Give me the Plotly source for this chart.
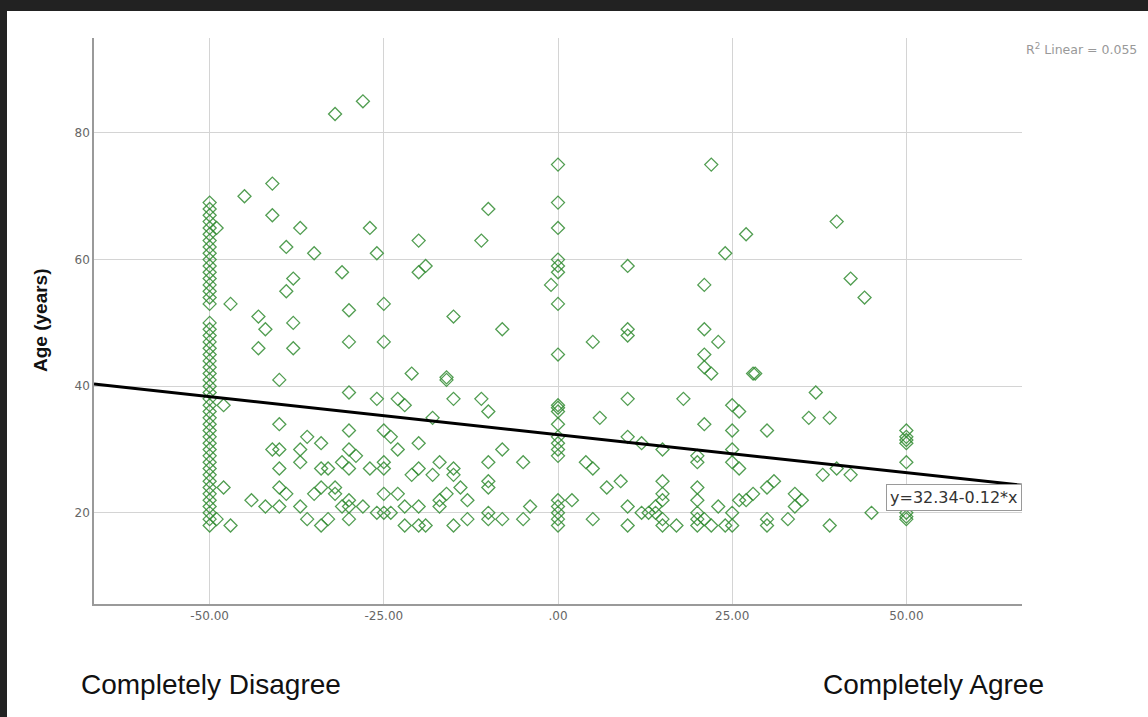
import plotly.graph_objects as go

# ---- data ----
col_m50_ages = [18, 19, 20, 21, 22, 23, 24, 25, 26, 27, 28, 29, 30, 31, 32, 33, 34, 35,
                36, 37, 38, 39, 40, 41, 42, 43, 44, 45, 46, 47, 48, 49, 50, 53, 54, 55,
                56, 57, 58, 59, 60, 61, 62, 63, 64, 65, 66, 67, 68, 69]

neg_pts = [(-49, 65), (-48, 37), (-48, 24), (-49, 19), (-47, 18),
           (-32, 83), (-28, 85), (-41, 72), (-45, 70), (-41, 67), (-37, 65), (-27, 65),
           (-39, 62), (-35, 61), (-26, 61), (-31, 58), (-20, 63), (-20, 58), (-19, 59),
           (-38, 57), (-39, 55), (-47, 53), (-25, 53), (-43, 51), (-42, 49), (-38, 50),
           (-30, 52), (-43, 46), (-38, 46), (-30, 47), (-25, 47), (-21, 42), (-40, 41),
           (-30, 39), (-26, 38), (-23, 38), (-22, 37), (-40, 34), (-30, 33), (-25, 33),
           (-36, 32), (-34, 31), (-24, 32), (-20, 31), (-41, 30), (-40, 30), (-37, 30),
           (-30, 30), (-29, 29), (-23, 30), (-40, 27), (-37, 28), (-34, 27), (-33, 27),
           (-31, 28), (-30, 27), (-27, 27), (-25, 28), (-25, 27), (-21, 26), (-20, 27),
           (-40, 24), (-39, 23), (-35, 23), (-34, 24), (-32, 24), (-32, 23), (-25, 23),
           (-23, 23), (-44, 22), (-42, 21), (-40, 21), (-37, 21), (-31, 21), (-30, 22),
           (-30, 21), (-28, 21), (-26, 20), (-25, 20), (-24, 20), (-22, 21), (-20, 21),
           (-36, 19), (-34, 18), (-33, 19), (-30, 19), (-22, 18), (-20, 18)]

mid_pts = [(-10, 68), (-11, 63), (-15, 51), (-8, 49), (5, 47), (-16, 41), (-16, 41.4),
           (-15, 38), (-11, 38), (-10, 36), (-18, 35), (6, 35), (-8, 30), (-5, 28),
           (4, 28), (5, 27), (-17, 28), (-15, 27), (-15, 26), (-18, 26), (-10, 28),
           (-10, 25), (-10, 24), (-14, 24), (-13, 22), (-17, 22), (-17, 21), (-16, 23),
           (7, 24), (2, 22), (-4, 21), (-10, 20), (-10, 19), (-15, 18), (-13, 19),
           (-8, 19), (-5, 19), (5, 19), (-19, 18),
           (0, 75), (0, 69), (0, 65), (0, 60), (0, 59), (0, 58), (-1, 56), (0, 53),
           (0, 45), (0, 37), (0, 36.6), (0, 36), (0, 34), (0, 32), (0, 31), (0, 30),
           (0, 29), (0, 22), (0, 21), (0, 20), (0, 19), (0, 18)]

pos_pts = [(22, 75), (27, 64), (24, 61), (10, 59), (21, 56), (10, 49), (10, 48), (21, 49),
           (23, 47), (21, 45), (21, 43), (22, 42), (28, 42), (28.3, 42), (10, 38), (18, 38),
           (25, 37), (26, 36), (37, 39), (36, 35), (21, 34), (25, 33), (30, 33), (10, 32),
           (12, 31), (15, 30), (20, 29), (20, 28), (25, 30), (25, 28), (26, 27), (9, 25),
           (15, 25), (15, 23), (15, 22), (20, 24), (20, 22), (20, 20), (10, 21), (12, 20),
           (13, 20), (14, 21), (14, 20), (15, 19), (15, 18), (10, 18), (17, 18), (20, 19),
           (21, 19), (22, 18), (20, 18), (23, 21), (25, 20), (25, 18), (24, 18), (26, 22),
           (27, 22), (28, 23), (30, 24), (31, 25), (30, 19), (30, 18), (33, 19), (34, 23),
           (35, 22), (34, 21),
           (40, 66), (42, 57), (44, 54), (39, 35), (50, 33), (50, 32), (50, 31.5), (50, 31),
           (50, 28), (38, 26), (40, 27), (42, 26), (45, 20), (50, 20), (50, 19.4), (50, 19),
           (39, 18)]

x_vals = [-50] * len(col_m50_ages) + [p[0] for p in neg_pts + mid_pts + pos_pts]
y_vals = list(col_m50_ages) + [p[1] for p in neg_pts + mid_pts + pos_pts]

intercept = 32.34
slope = -0.12
x_range = [-66.6, 66.6]
y_range = [5.6, 95]
x_tick_vals = [-50, -25, 0, 25, 50]
x_tick_text = ["-50.00", "-25.00", ".00", "25.00", "50.00"]
y_tick_vals = [20, 40, 60, 80]

fit_x = x_range
fit_y = [intercept + slope * v for v in fit_x]

fig = go.Figure()
fig.add_trace(go.Scatter(
    x=x_vals, y=y_vals, mode="markers",
    marker=dict(symbol="diamond-open", size=10, color="rgba(50,140,50,0.85)",
                line=dict(width=1.3, color="rgba(50,140,50,0.85)")),
    showlegend=False, hoverinfo="x+y"))
fig.add_trace(go.Scatter(
    x=fit_x, y=fit_y, mode="lines", line=dict(color="black", width=3),
    showlegend=False, hoverinfo="skip"))

tickfont = dict(family="DejaVu Sans", size=12, color="#666666")
fig.update_xaxes(range=x_range, tickvals=x_tick_vals, ticktext=x_tick_text,
                 showgrid=True, gridcolor="#d4d4d4", gridwidth=1, zeroline=False,
                 showline=True, linecolor="#9a9a9a", linewidth=1.5, ticks="",
                 tickfont=tickfont, fixedrange=True)
fig.update_yaxes(range=y_range, tickvals=y_tick_vals,
                 showgrid=True, gridcolor="#d4d4d4", gridwidth=1, zeroline=False,
                 showline=True, linecolor="#9a9a9a", linewidth=1.5, ticks="",
                 tickfont=tickfont, fixedrange=True)

L, R, T, B = 94, 126, 38, 113
W, H = 1148, 717
pw, ph = W - L - R, H - T - B

def px(xp):
    return (xp - L) / pw

def py(yp):
    return (H - B - yp) / ph

annotations = [
    dict(text="<b>Age (years)</b>", x=px(40), y=py(320), xref="paper", yref="paper",
         textangle=-90, showarrow=False, xanchor="center", yanchor="middle",
         font=dict(family="Liberation Sans", size=19, color="#111")),
    dict(text="R<sup>2</sup> Linear = 0.055", x=px(1024), y=py(49), xref="paper",
         yref="paper", showarrow=False, xanchor="left", yanchor="middle",
         font=dict(family="DejaVu Sans", size=12.5, color="#999999")),
    dict(text="y=32.34-0.12*x", x=1.0, y=22.4, xref="paper", yref="y",
         showarrow=False, xanchor="right", yanchor="middle",
         bordercolor="#9a9a9a", borderwidth=1, borderpad=3, bgcolor="white",
         font=dict(family="DejaVu Sans", size=16, color="#333")),
    dict(text="Completely Disagree", x=px(79), y=py(684), xref="paper", yref="paper",
         showarrow=False, xanchor="left", yanchor="middle",
         font=dict(family="Liberation Sans", size=28, color="#111")),
    dict(text="Completely Agree", x=px(821), y=py(684), xref="paper", yref="paper",
         showarrow=False, xanchor="left", yanchor="middle",
         font=dict(family="Liberation Sans", size=28, color="#111")),
]

shapes = [
    dict(type="rect", xref="paper", yref="paper", x0=px(-5), x1=px(W + 5),
         y0=py(11), y1=py(-5), fillcolor="#222222", line=dict(width=0), layer="above"),
    dict(type="rect", xref="paper", yref="paper", x0=px(-5), x1=px(7),
         y0=py(H + 5), y1=py(-5), fillcolor="#222222", line=dict(width=0), layer="above"),
]

fig.update_layout(width=W, height=H, autosize=False,
                  margin=dict(l=L, r=R, t=T, b=B, pad=0),
                  paper_bgcolor="white", plot_bgcolor="white",
                  annotations=annotations, shapes=shapes,
                  font=dict(family="DejaVu Sans"))

fig.write_html("out.html", config={"displayModeBar": False},
               post_script="document.body.style.margin='0';document.body.style.overflow='hidden';")
